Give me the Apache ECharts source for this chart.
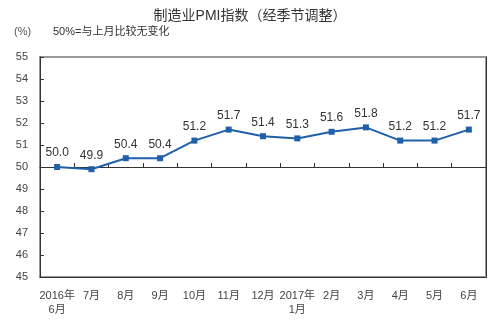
<!DOCTYPE html>
<html><head><meta charset="utf-8">
<script src="https://cdn.jsdelivr.net/npm/echarts@6/dist/echarts.min.js"></script>
<style>html,body{margin:0;padding:0;background:#fff}#c{width:500px;height:329px}</style>
</head><body><div id="c"></div>
<script>
const categories = ["2016年\n6月","7月","8月","9月","10月","11月","12月","2017年\n1月","2月","3月","4月","5月","6月"];
const pmiValues = [50.0, 49.9, 50.4, 50.4, 51.2, 51.7, 51.4, 51.3, 51.6, 51.8, 51.2, 51.2, 51.7];
const yTicks = [45, 46, 47, 48, 49, 50, 51, 52, 53, 54, 55];
const titleText = "制造业PMI指数（经季节调整）";
const unitText = "(%)";
const noteText = "50%=与上月比较无变化";

const FONT = "'Liberation Sans','Noto Sans CJK SC',sans-serif";
const chart = echarts.init(document.getElementById('c'), null, {renderer:'canvas'});
chart.setOption({
  animation:false,
  backgroundColor:'#fff',
  title:{text:titleText,left:'center',top:4,textStyle:{fontSize:14,fontWeight:'normal',color:'#333',fontFamily:FONT}},
  graphic:[
    {type:'text',left:14,top:26,style:{text:unitText,fontSize:11,fill:'#555',fontFamily:FONT}},
    {type:'text',left:53,top:26,style:{text:noteText,fontSize:11,fill:'#333',fontFamily:FONT}}
  ],
  grid:{left:40,right:14,top:57,bottom:52,show:true,borderColor:'#999',borderWidth:2,backgroundColor:'transparent'},
  xAxis:[
    {type:'category',data:categories,boundaryGap:true,position:'bottom',
     axisLine:{show:true,lineStyle:{color:'#333',width:1}},
     axisTick:{show:false},
     axisLabel:{interval:0,fontSize:11,color:'#444',fontFamily:FONT,margin:12,lineHeight:14}},
    {type:'category',data:categories,boundaryGap:true,position:'bottom',offset:-110,
     axisLine:{show:true,lineStyle:{color:'#333',width:1}},
     axisTick:{show:true,inside:true,length:4,interval:0,lineStyle:{color:'#333'}},
     axisLabel:{show:false}}
  ],
  yAxis:[
    {type:'value',min:yTicks[0],max:yTicks[yTicks.length-1],interval:1,
     axisLine:{show:true,lineStyle:{color:'#333'}},
     axisTick:{show:true,inside:true,length:4,lineStyle:{color:'#333'}},
     axisLabel:{fontSize:11,color:'#444',fontFamily:FONT,margin:12},
     splitLine:{show:false}},
    {type:'value',min:yTicks[0],max:yTicks[yTicks.length-1],interval:1,position:'right',
     axisLine:{show:true,lineStyle:{color:'#333'}},
     axisTick:{show:false},axisLabel:{show:false},splitLine:{show:false}}
  ],
  series:[{
    type:'line',data:pmiValues,xAxisIndex:0,yAxisIndex:0,
    symbol:'rect',symbolSize:6,
    lineStyle:{color:'#2060a8',width:2},
    itemStyle:{color:'#2060a8'},
    label:{show:true,position:'top',distance:5,fontSize:12,color:'#333',fontFamily:FONT,
      formatter:p=>p.value.toFixed(1)}
  }]
});
</script></body></html>
